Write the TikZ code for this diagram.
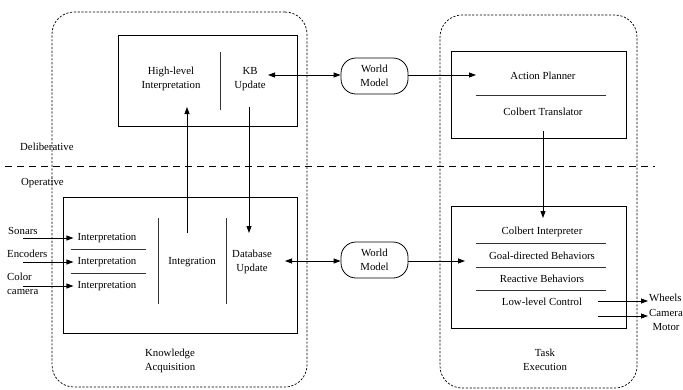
\documentclass[tikz,border=0pt]{standalone}
\usepackage{fontspec}
\setmainfont{Liberation Serif}
\usetikzlibrary{arrows.meta}
\begin{document}
\begin{tikzpicture}[x=1pt,y=-1pt,
  txt/.style={font=\fontsize{10.8}{14}\selectfont, align=center, inner sep=0pt},
  solidbox/.style={draw, line width=0.8pt, inner sep=0pt},
  group/.style={draw, line width=0.7pt, dash pattern=on 2.2pt off 1.6pt, rounded corners=22pt, inner sep=0pt},
  divider/.style={line width=0.8pt, draw=black!80},
  levelline/.style={line width=0.7pt, dash pattern=on 7pt off 5pt},
  arr/.style={-{Triangle[length=7pt,width=5pt]}, line width=0.8pt},
  darr/.style={{Triangle[length=7pt,width=5pt]}-{Triangle[length=7pt,width=5pt]}, line width=0.8pt},
  wm/.style={draw, rounded corners=15pt, line width=0.8pt, minimum width=67pt, minimum height=36pt, txt}
]
\useasboundingbox (0,0) rectangle (683,389);

% outer groups
\node[group, minimum width=255pt, minimum height=375pt] (kagroup) at (179.5,199.5) {};
\node[group, minimum width=197pt, minimum height=373pt] (tegroup) at (538.5,201.5) {};

% level line
\coordinate (lvlL) at (5,166);
\coordinate (lvlR) at (655,166);
\draw[levelline] (lvlL) -- (lvlR);
\node[txt, anchor=west] (delib) at (20,147) {Deliberative};
\node[txt, anchor=west] (oper) at (21,183) {Operative};

% top-left box
\node[solidbox, minimum width=179pt, minimum height=91pt] (hlbox) at (207.5,80.5) {};
\node[txt] (hl) at (171,79) {High-level\\Interpretation};
\node[txt] (kb) at (250,79) {KB\\Update};
\coordinate (hlDivT) at (220,52);
\coordinate (hlDivB) at (220,110);
\draw[divider] (hlDivT) -- (hlDivB);

% world models
\node[wm] (wm1) at (374.5,76) {World\\Model};
\node[wm] (wm2) at (374.5,260) {World\\Model};

% action planner box
\node[solidbox, minimum width=175pt, minimum height=87pt] (apbox) at (538.5,94.5) {};
\node[txt] (ap) at (543,76) {Action Planner};
\node[txt] (ct) at (543,112) {Colbert Translator};
\coordinate (apSepL) at (476,95);
\coordinate (apSepR) at (606,95);
\draw[divider] (apSepL) -- (apSepR);

% knowledge acquisition box
\node[solidbox, minimum width=234pt, minimum height=136pt] (kabox) at (180,265) {};
\node[txt] (int1) at (107,238) {Interpretation};
\node[txt] (int2) at (107,262) {Interpretation};
\node[txt] (int3) at (107,286) {Interpretation};
\coordinate (sep1L) at (71,249);
\coordinate (sep1R) at (146,249);
\coordinate (sep2L) at (71,273);
\coordinate (sep2R) at (146,273);
\draw[divider] (sep1L) -- (sep1R);
\draw[divider] (sep2L) -- (sep2R);
\node[txt] (integ) at (192,262) {Integration};
\node[txt] (db) at (252,261.5) {Database\\Update};
\coordinate (div1T) at (158,218);
\coordinate (div1B) at (158,304);
\coordinate (div2T) at (226,218);
\coordinate (div2B) at (226,304);
\draw[divider] (div1T) -- (div1B);
\draw[divider] (div2T) -- (div2B);
\node[txt] (ka) at (170,360.5) {Knowledge\\Acquisition};

% sensors
\node[txt, anchor=west] (sonars) at (8,231) {Sonars};
\node[txt, anchor=west] (encoders) at (7,254) {Encoders};
\node[txt, anchor=west, align=left] (camera) at (7,283.5) {Color\\camera};
\coordinate (in1) at (23,238);
\coordinate (in2) at (23,262);
\coordinate (in3) at (23,286);
\draw[arr, shorten >=4pt] (in1) -- (int1.west);
\draw[arr, shorten >=4pt] (in2) -- (int2.west);
\draw[arr, shorten >=4pt] (in3) -- (int3.west);

% task execution box
\node[solidbox, minimum width=175pt, minimum height=122pt] (tebox) at (538.5,267) {};
\node[txt] (ci) at (542,232) {Colbert Interpreter};
\node[txt] (gd) at (542,256) {Goal-directed Behaviors};
\node[txt] (rb) at (542,279) {Reactive Behaviors};
\node[txt] (ll) at (542,302) {Low-level Control};
\coordinate (tsep1L) at (476,243);
\coordinate (tsep1R) at (606,243);
\coordinate (tsep2L) at (476,267);
\coordinate (tsep2R) at (606,267);
\coordinate (tsep3L) at (476,290);
\coordinate (tsep3R) at (606,290);
\draw[divider] (tsep1L) -- (tsep1R);
\draw[divider] (tsep2L) -- (tsep2R);
\draw[divider] (tsep3L) -- (tsep3R);
\node[txt] (te) at (545,359.5) {Task\\Execution};

% outputs
\node[txt, anchor=west] (wheels) at (649,298) {Wheels};
\node[txt] (cammotor) at (666,319.5) {Camera\\Motor};
\coordinate (wOut) at (598,301);
\coordinate (wIn) at (648,301);
\coordinate (cOut) at (598,316);
\coordinate (cIn) at (648,316);
\draw[arr] (wOut) -- (wIn);
\draw[arr] (cOut) -- (cIn);

% connectors
\coordinate (kbR) at (268,75);
\draw[darr] (kbR) -- (kbR -| wm1.west);
\coordinate (apIn) at (476,75);
\draw[arr] (wm1.east |- apIn) -- (apIn);
\coordinate (intTop) at (187,233);
\coordinate (hlBot) at (187,107);
\draw[arr] (intTop) -- (hlBot);
\coordinate (kbBot) at (249,107);
\coordinate (dbTop) at (249,233);
\draw[arr] (kbBot) -- (dbTop);
\coordinate (ctBot) at (543,131);
\coordinate (ciTop) at (543,218);
\draw[arr] (ctBot) -- (ciTop);
\coordinate (dbR) at (285,261);
\draw[darr] (dbR) -- (dbR -| wm2.west);
\coordinate (tIn) at (465,261);
\draw[arr] (wm2.east |- tIn) -- (tIn);
\end{tikzpicture}
\end{document}
